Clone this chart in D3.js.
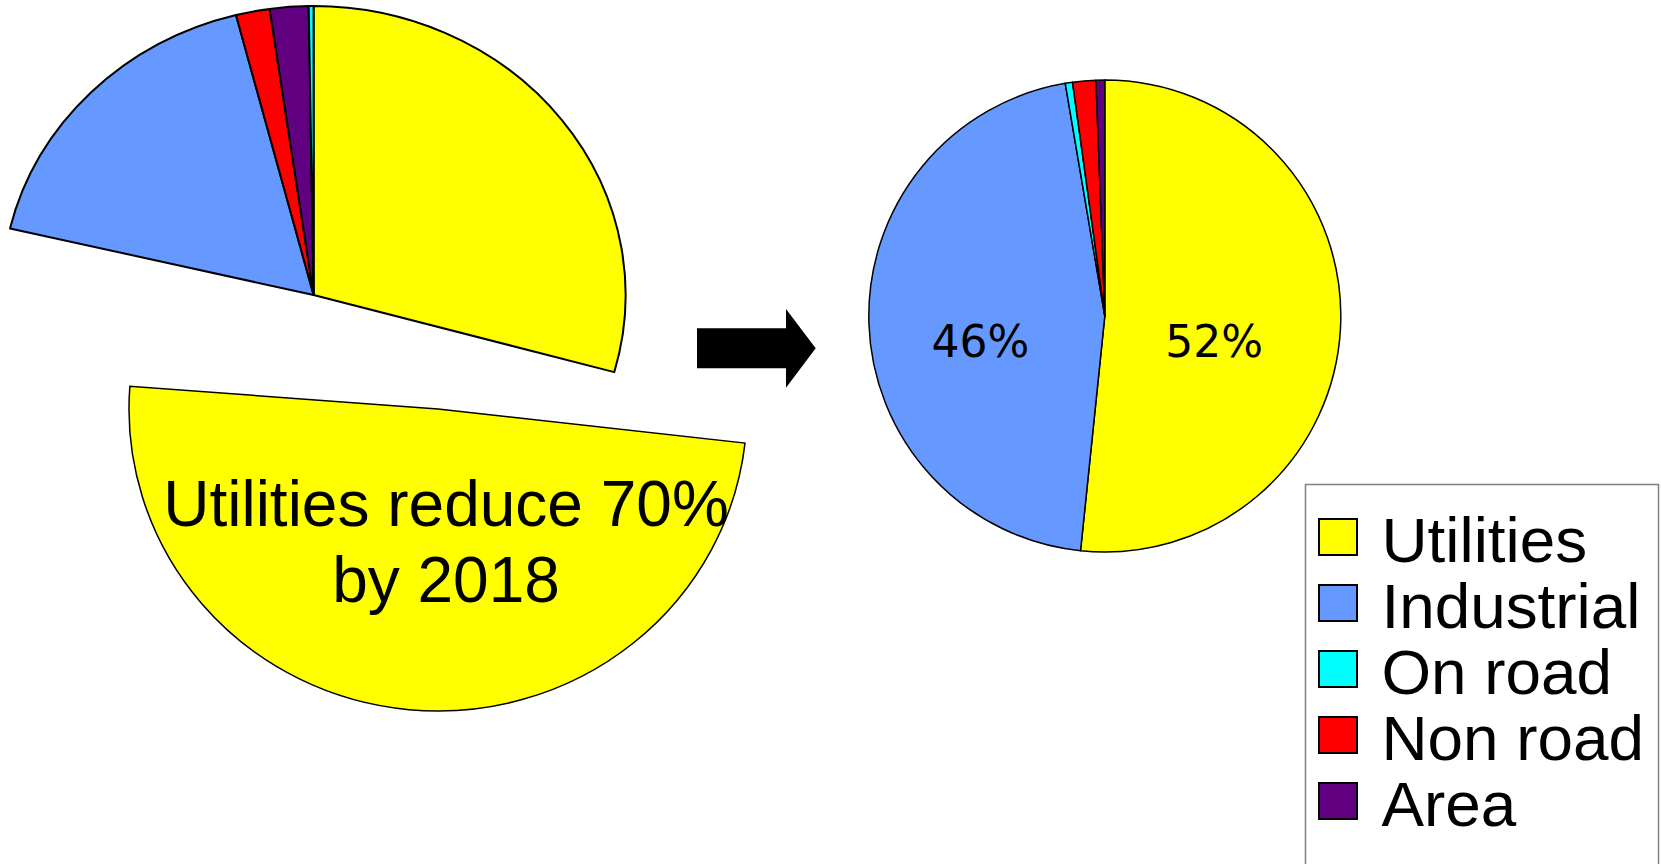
<!DOCTYPE html>
<html>
<head>
<meta charset="utf-8">
<script src="https://cdn.jsdelivr.net/npm/d3@7"></script>
<style>
  html, body { margin: 0; padding: 0; background: #ffffff; }
  svg { display: block; }
</style>
</head>
<body>
<script>
// Source categories and their fill colours
const categories = ["Utilities", "Industrial", "On road", "Non road", "Area"];
const categoryColors = ["#ffff00", "#6699ff", "#00ffff", "#ff0000", "#600080"];

// Current emissions (share of total, %), in drawing order; the utilities
// slice is split into the part that stays and the part that is cut.
const currentKeys = ["Utilities", "Utilities cut", "Industrial", "Non road", "Area", "On road"];
const currentValues = [29.3, 49.4, 17.3, 1.75, 2.0, 0.25];

// 2018 emissions (share of total, %)
const futureKeys = ["Utilities", "Industrial", "On road", "Non road", "Area"];
const futureValues = [52, 46, 0.5, 1.6, 0.6];

// Text
const cutLabelLines = ["Utilities reduce 70%", "by 2018"];

const W = 1661, H = 864;
const color = d3.scaleOrdinal()
  .domain(categories.concat(["Utilities cut"]))
  .range(categoryColors.concat(["#ffff00"]));

const svg = d3.select("body").append("svg")
  .attr("width", W).attr("height", H)
  .style("background", "#ffffff");

const pie = d3.pie().sort(null).value(d => d.value);
const R0 = 100;                       // unit radius, stretched per pie below
const baseArc = d3.arc().innerRadius(0).outerRadius(R0);

// ---------- current pie (stretched), utilities cut removed ----------
const currentData = currentKeys.map((k, i) => ({ key: k, value: currentValues[i] }));
const currentArcs = pie(currentData);

const leftPie = svg.append("g")
  .attr("transform", `translate(313.6,295) scale(${312 / R0},${289 / R0})`);

leftPie.selectAll("path")
  .data(currentArcs.filter(d => d.data.key !== "Utilities cut"))
  .join("path")
  .attr("d", baseArc)
  .attr("fill", d => color(d.data.key))
  .attr("stroke", "#000")
  .attr("stroke-width", 2)
  .attr("stroke-linejoin", "round")
  .attr("vector-effect", "non-scaling-stroke");

// ---------- the cut utilities wedge, pulled out and tilted ----------
const cutArc = currentArcs.find(d => d.data.key === "Utilities cut");
const cutGroup = svg.append("g")
  .attr("transform", `translate(438,409) scale(${309 / R0},${302 / R0}) rotate(-9)`);
cutGroup.append("path")
  .datum(cutArc)
  .attr("d", baseArc)
  .attr("fill", color("Utilities cut"))
  .attr("stroke", "#000")
  .attr("stroke-width", 1.5)
  .attr("vector-effect", "non-scaling-stroke");

const cutText = svg.append("text")
  .attr("x", 446)
  .attr("text-anchor", "middle")
  .attr("font-family", "'Liberation Sans', Arial, sans-serif")
  .attr("font-size", 64)
  .attr("fill", "#000");
cutText.selectAll("tspan")
  .data(cutLabelLines)
  .join("tspan")
  .attr("x", 446)
  .attr("y", (d, i) => 525.7 + i * 76.6)
  .text(d => d);

// ---------- arrow ----------
const arrow = d3.path();
arrow.moveTo(697, 328.3);
arrow.lineTo(786, 328.3);
arrow.lineTo(786, 309);
arrow.lineTo(815.7, 348.3);
arrow.lineTo(786, 387.7);
arrow.lineTo(786, 368.3);
arrow.lineTo(697, 368.3);
arrow.closePath();
svg.append("path").attr("d", arrow.toString()).attr("fill", "#000");

// ---------- 2018 pie ----------
const futureData = futureKeys.map((k, i) => ({ key: k, value: futureValues[i] }));
const futureArcs = pie(futureData);
const rightR = 236;
const rightArc = d3.arc().innerRadius(0).outerRadius(rightR);
const labelArc = d3.arc().innerRadius(117).outerRadius(117);

const rightPie = svg.append("g").attr("transform", "translate(1104.8,316)");
rightPie.selectAll("path")
  .data(futureArcs)
  .join("path")
  .attr("d", rightArc)
  .attr("fill", d => color(d.data.key))
  .attr("stroke", "#000")
  .attr("stroke-width", 1.5)
  .attr("stroke-linejoin", "round");

rightPie.selectAll("text")
  .data(futureArcs.filter(d => d.data.value >= 10))
  .join("text")
  .attr("x", d => labelArc.centroid(d)[0])
  .attr("dx", -7.5)
  .attr("y", 40.7)
  .attr("text-anchor", "middle")
  .attr("font-family", "'DejaVu Sans', sans-serif")
  .attr("font-size", 44)
  .attr("fill", "#000")
  .text(d => d.data.value + "%");

// ---------- legend ----------
const legend = svg.append("g");
legend.append("rect")
  .attr("x", 1305.5).attr("y", 484.5)
  .attr("width", 353).attr("height", 420)
  .attr("fill", "#fff")
  .attr("stroke", "#808080")
  .attr("stroke-width", 1.5);

const rowY = d3.scaleLinear().domain([0, 1]).range([561.7, 627.7]);
const rows = legend.selectAll("g.row")
  .data(categories)
  .join("g")
  .attr("class", "row")
  .attr("transform", (d, i) => `translate(0,${rowY(i)})`);

rows.append("rect")
  .attr("x", 1319).attr("y", -42.7)
  .attr("width", 38).attr("height", 36)
  .attr("fill", d => color(d))
  .attr("stroke", "#000")
  .attr("stroke-width", 2);

rows.append("text")
  .attr("x", 1381.5).attr("y", 0)
  .attr("font-family", "'Liberation Sans', Arial, sans-serif")
  .attr("font-size", 63.8)
  .attr("fill", "#000")
  .text(d => d);
</script>
</body>
</html>
